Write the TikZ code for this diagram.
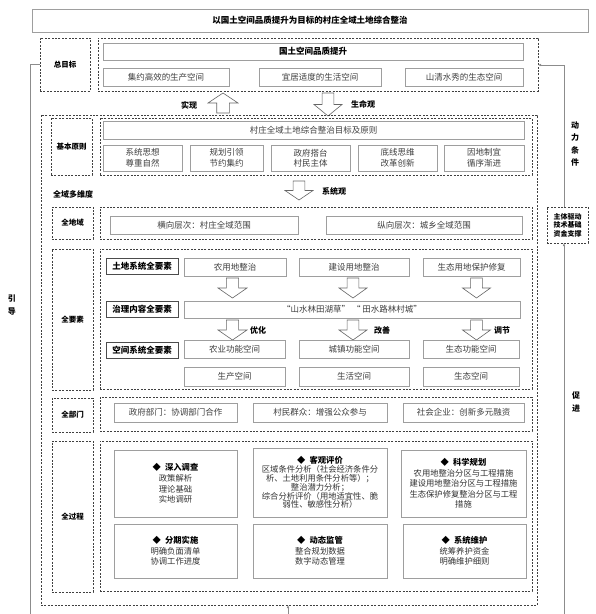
\documentclass[tikz,border=0pt]{standalone}
\usepackage{fontspec}
\setmainfont{Noto Sans CJK SC}
\usetikzlibrary{arrows.meta}
\tikzset{
 box/.style={draw=black!38, line width=0.7pt, fill=white, text=black!75, font=\fontsize{8.5}{10.5}\selectfont, inner sep=0pt, outer sep=0pt, align=center},
 tbox/.style={box, text=black, font=\bfseries\fontsize{8.5}{10.5}\selectfont},
 kbox/.style={box, draw=black!70, text=black, font=\bfseries\fontsize{8.5}{10.5}\selectfont},
 pbox/.style={box, text=black!80, font=\fontsize{8.3}{10.6}\selectfont},
 pboxb/.style={box, text=black!80, font=\fontsize{8.3}{8.9}\selectfont},
 dbox/.style={draw=black!75, dash pattern=on 2pt off 1.4pt, line width=0.55pt, inner sep=0pt, outer sep=0pt, font=\bfseries\fontsize{7.5}{9}\selectfont, align=center},
 sdbox/.style={dbox, font=\bfseries\fontsize{7}{8.6}\selectfont},
 lab/.style={font=\bfseries\fontsize{8}{9}\selectfont, text=black, inner sep=0pt},
 vlab/.style={font=\bfseries\fontsize{8}{12.5}\selectfont, text=black, inner sep=0pt, align=center},
 fb/.style={draw=black!45, line width=0.6pt},
 tip/.style={-{Latex[length=3pt,width=2.6pt]}},
 barrow/.style={draw=black!60, fill=white, line width=0.6pt, line join=miter}
}
\newcommand\bx[7][box]{\node[#1, minimum width={#4-#2}, minimum height={#5-#3}] (#6) at ({(#2+#4)/2},{(#3+#5)/2}) {#7};}
\newcommand\darr[4]{\draw[barrow] ({#1-0.42*#4},#2) -- ({#1+0.42*#4},#2) -- ({#1+0.42*#4},{(#2+#3)/2}) -- ({#1+#4},{(#2+#3)/2}) -- (#1,#3) -- ({#1-#4},{(#2+#3)/2}) -- ({#1-0.42*#4},{(#2+#3)/2}) -- cycle;}
\newcommand\hd[1]{{\bfseries\color{black}◆\enspace #1}}
\begin{document}
\begin{tikzpicture}[x=1pt,y=-1pt]
\useasboundingbox (0,0) rectangle (596,614);
% title
\bx[tbox]{32}{9}{588}{32}{title}{以国土空间品质提升为目标的村庄全域土地综合整治}
% goal
\bx[dbox]{40}{38}{90}{91}{tm}{总目标}
\bx[dbox]{98}{38}{538}{91}{gc}{}
\bx[tbox]{103}{43}{523}{60}{q1}{国土空间品质提升}
\bx{103}{68}{229}{86}{g1}{集约高效的生产空间}
\bx{259}{68}{381}{86}{g2}{宜居适度的生活空间}
\bx{405}{68}{523}{86}{g3}{山清水秀的生态空间}
% arrows between
\darr{223}{113}{93}{15}
\node[lab] (lsx) at (189,105) {实现};
\darr{328}{93}{116}{14}
\node[lab] (lsm) at (363,104) {生命观};
% outer
\bx[dbox]{41}{115}{537}{605}{outer}{}
% principles
\bx[dbox]{51}{118}{92}{175}{jb}{基本原则}
\bx[dbox]{100}{118}{532}{175}{jbc}{}
\bx{103}{121}{524}{139}{p0}{村庄全域土地综合整治目标及原则}
\bx{103}{145}{182}{171}{p1}{系统思想\\尊重自然}
\bx{190}{145}{263}{171}{p2}{规划引领\\节约集约}
\bx{271}{145}{350}{171}{p3}{政府搭台\\村民主体}
\bx{358}{145}{437}{171}{p4}{底线思维\\改革创新}
\bx{444}{145}{524}{171}{p5}{因地制宜\\循序渐进}
\node[lab] (lqy) at (73,194) {全域多维度};
\darr{299}{181}{200}{14}
\node[lab] (lxt) at (334,191) {系统观};
% whole region
\bx[dbox]{52}{207}{93}{239}{qdy}{全地域}
\bx[dbox]{100}{207}{532}{239}{qdyc}{}
\bx{110}{216}{298}{234}{h1}{横向层次：村庄全域范围}
\bx{326}{216}{522}{234}{h2}{纵向层次：城乡全域范围}
% whole elements
\bx[dbox]{52}{249}{93}{390}{qys}{全要素}
\bx[dbox]{100}{249}{532}{389}{qysc}{}
\bx[kbox]{106}{258}{178}{274}{k1}{土地系统全要素}
\bx[kbox]{106}{301}{178}{317}{k2}{治理内容全要素}
\bx[kbox]{106}{342}{178}{358}{k3}{空间系统全要素}
\bx{184}{258}{286}{276}{e1}{农用地整治}
\bx{299}{258}{409}{276}{e2}{建设用地整治}
\bx{423}{258}{520}{276}{e3}{生态用地保护修复}
\darr{232.5}{278}{298}{14.5}
\darr{353}{278}{298}{14}
\darr{476.5}{278}{298}{14}
\bx{184}{301}{520}{318}{long}{“山水林田湖草” “ 田水路林村城”}
\darr{232.5}{320}{340}{14.5}
\darr{353}{320}{340}{14}
\darr{476.5}{320}{340}{14}
\node[lab] (lyh) at (258,330) {优化};
\node[lab] (lgs) at (382,330) {改善};
\node[lab] (ltj) at (502,330) {调节};
\bx{184}{340}{285}{358}{s1}{农业功能空间}
\bx{299}{340}{409}{358}{s2}{城镇功能空间}
\bx{423}{340}{519}{358}{s3}{生态功能空间}
\bx{184}{367}{285}{386}{t1}{生产空间}
\bx{299}{367}{409}{386}{t2}{生活空间}
\bx{423}{367}{519}{386}{t3}{生态空间}
% departments
\bx[dbox]{52}{398}{93}{432}{qbm}{全部门}
\bx[dbox]{100}{397}{532}{431}{qbmc}{}
\bx{114}{403}{237}{422}{d1}{政府部门：协调部门合作}
\bx{253}{403}{387}{422}{d2}{村民群众：增强公众参与}
\bx{403}{403}{524}{422}{d3}{社会企业：创新多元融资}
% process
\bx[dbox]{52}{441}{93}{592}{qgc}{全过程}
\bx[dbox]{100}{441}{532}{591}{qgcc}{}
\bx[pbox]{114}{450}{237}{517}{f1}{\hd{深入调查}\\政策解析\\理论基础\\实地调研}
\bx[pboxb]{253}{448}{387}{517}{f2}{\hd{客观评价}\\区域条件分析（社会经济条件分\\析、土地利用条件分析等）；\\整治潜力分析；\\综合分析评价（用地适宜性、脆\\弱性、敏感性分析）}
\bx[pbox]{401}{450}{526}{517}{f3}{\hd{科学规划}\\农用地整治分区与工程措施\\建设用地整治分区与工程措施\\生态保护修复整治分区与工程\\措施}
\bx[pbox]{114}{524}{237}{578}{f4}{\hd{分期实施}\\明确负面清单\\协调工作进度}
\bx[pbox]{253}{524}{387}{578}{f5}{\hd{动态监管}\\整合规划数据\\数字动态管理}
\bx[pbox]{403}{524}{526}{578}{f6}{\hd{系统维护}\\统筹养护资金\\明确维护细则}
% right driver
\bx[sdbox]{547}{207}{588}{243}{zt}{主体驱动\\技术基础\\资金支撑}
% feedback lines
\coordinate (b1) at (30,620);
\coordinate (b2) at (288,620);
\coordinate (b3) at (564,620);
\coordinate (r1) at (564,65);
\draw[fb,tip] (tm.west) -| (b1) -- (b2) -- (b2 |- outer.south);
\draw[fb,tip] (b3) -- (b3 |- zt.south);
\draw[fb,tip] (r1 |- zt.north) -- (r1) -- (r1 -| gc.east);
\node[vlab] (lyd) at (12,305) {引\\导};
\node[vlab] (ldl) at (575,144) {动\\力\\条\\件};
\node[vlab] (lcj) at (576,402) {促\\进};
\end{tikzpicture}
\end{document}
